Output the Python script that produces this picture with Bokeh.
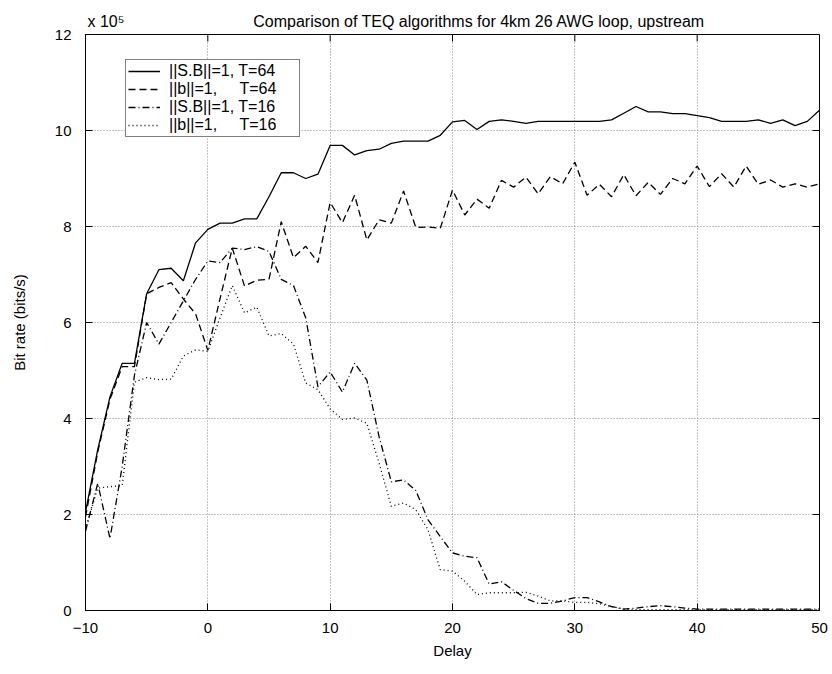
import math
from bokeh.plotting import figure
from bokeh.models import Range1d, FixedTicker, Title
from bokeh.embed import file_html
from bokeh.resources import INLINE

delay = list(range(-10, 51))

# Bit rate values in units of 1e5 bits/s
sb_t64 = [2.05, 3.35, 4.45, 5.15, 5.15, 6.6, 7.1, 7.13, 6.87, 7.66,
          7.94, 8.07, 8.07, 8.16, 8.16, 8.62, 9.12, 9.12, 9.0, 9.09,
          9.69, 9.69, 9.49, 9.58, 9.61, 9.73, 9.78, 9.78, 9.78, 9.9,
          10.18, 10.21, 10.02, 10.19, 10.22, 10.19, 10.15, 10.19, 10.19, 10.19,
          10.19, 10.19, 10.19, 10.22, 10.36, 10.5, 10.39, 10.39, 10.35, 10.35,
          10.31, 10.27, 10.19, 10.19, 10.19, 10.22, 10.15, 10.22, 10.1, 10.19,
          10.42]
b_t64 = [1.95, 3.3, 4.4, 5.08, 5.08, 6.6, 6.73, 6.83, 6.49, 6.18,
         5.42, 6.5, 7.55, 6.76, 6.88, 6.9, 8.1, 7.35, 7.59, 7.25,
         8.5, 8.08, 8.65, 7.72, 8.14, 8.07, 8.74, 7.98, 7.99, 7.96,
         8.76, 8.24, 8.57, 8.38, 8.96, 8.82, 9.03, 8.68, 9.04, 8.89,
         9.34, 8.65, 8.88, 8.62, 9.08, 8.64, 8.92, 8.67, 9.0, 8.89,
         9.26, 8.83, 9.1, 8.82, 9.26, 8.88, 8.97, 8.82, 8.89, 8.82,
         8.89]
sb_t16 = [1.65, 2.65, 1.5, 3.0, 4.9, 6.0, 5.55, 6.0, 6.45, 6.9,
          7.28, 7.25, 7.55, 7.52, 7.58, 7.48, 6.9, 6.77, 6.1, 4.66,
          4.97, 4.55, 5.15, 4.8, 3.62, 2.68, 2.72, 2.5, 1.89, 1.54,
          1.2, 1.13, 1.1, 0.55, 0.6, 0.42, 0.25, 0.15, 0.15, 0.2,
          0.27, 0.27, 0.18, 0.08, 0.03, 0.05, 0.08, 0.1, 0.08, 0.05,
          0.03, 0.03, 0.03, 0.03, 0.03, 0.03, 0.03, 0.03, 0.03, 0.03,
          0.03]
b_t16 = [1.7, 2.55, 2.58, 2.6, 4.76, 4.85, 4.81, 4.82, 5.3, 5.43,
         5.4, 6.1, 6.77, 6.2, 6.32, 5.72, 5.77, 5.55, 4.74, 4.6,
         4.2, 3.98, 4.01, 3.9, 3.07, 2.17, 2.24, 2.1, 1.68, 0.85,
         0.82, 0.61, 0.33, 0.37, 0.37, 0.37, 0.38, 0.3, 0.2, 0.2,
         0.17, 0.17, 0.14, 0.08, 0.03, 0.02, 0.02, 0.02, 0.02, 0.02,
         0.02, 0.02, 0.02, 0.02, 0.02, 0.02, 0.02, 0.02, 0.02, 0.02,
         0.02]

x_ticks = [-10, 0, 10, 20, 30, 40, 50]
y_ticks = [0, 2, 4, 6, 8, 10, 12]
labels = ["||S.B||=1, T=64", "||b||=1,\u00a0\u00a0\u00a0\u00a0\u00a0T=64",
          "||S.B||=1, T=16", "||b||=1,\u00a0\u00a0\u00a0\u00a0\u00a0T=16"]
title_text = "Comparison of TEQ algorithms for 4km 26 AWG loop, upstream"
scale_text = "x 10\u2075"

FONT = "Liberation Sans"
X0, X1, Y0, Y1 = -10, 50, 0, 12

p = figure(width=830, height=672, output_backend="svg", toolbar_location=None,
           x_range=Range1d(X0, X1), y_range=Range1d(Y0, Y1),
           min_border_left=85, min_border_right=11, min_border_top=34, min_border_bottom=62)
p.title = None
p.background_fill_color = "white"
p.border_fill_color = "white"
p.outline_line_color = "black"
p.outline_line_width = 1

styles = [("solid", sb_t64), ("7 4", b_t64), ("7 3 1 3", sb_t16), ("1 3", b_t16)]
for (dash, ys), lab in zip(styles, labels):
    p.line(delay, ys, line_color="black", line_width=1.3, line_dash=dash, legend_label=lab)

for ax in (p.xaxis[0], p.yaxis[0]):
    ax.major_label_text_font = FONT
    ax.major_label_text_font_size = "15px"
    ax.major_label_text_color = "black"
    ax.axis_label_text_font = FONT
    ax.axis_label_text_font_size = "15px"
    ax.axis_label_text_font_style = "normal"
    ax.axis_label_text_color = "black"
    ax.major_tick_in = 7
    ax.major_tick_out = 0
    ax.minor_tick_line_color = None
    ax.axis_line_color = "black"
    ax.major_tick_line_color = "black"

p.xaxis[0].ticker = FixedTicker(ticks=x_ticks)
p.yaxis[0].ticker = FixedTicker(ticks=y_ticks)
p.xaxis[0].axis_label = "Delay"
p.yaxis[0].axis_label = "Bit rate (bits/s)"
p.xaxis[0].major_label_standoff = 12
p.yaxis[0].major_label_standoff = 14
p.xaxis[0].axis_label_standoff = 6
p.yaxis[0].axis_label_standoff = 24

# inward ticks on the top and right edges of the box
p.ray(x=x_ticks, y=[Y1] * len(x_ticks), length=7, length_units="screen",
      angle=-math.pi / 2, line_color="black", line_width=1)
p.ray(x=[X1] * len(y_ticks), y=y_ticks, length=7, length_units="screen",
      angle=math.pi, line_color="black", line_width=1)

p.xgrid.ticker = FixedTicker(ticks=x_ticks)
p.ygrid.ticker = FixedTicker(ticks=y_ticks)
for g in (p.xgrid, p.ygrid):
    g.grid_line_color = "#888888"
    g.grid_line_dash = "1 2"
    g.grid_line_width = 1

leg = p.legend[0]
leg.location = (40, 473)
leg.border_line_color = "black"
leg.border_line_width = 1.5
leg.background_fill_color = "white"
leg.background_fill_alpha = 1
leg.label_text_font = FONT
leg.label_text_font_size = "16px"
leg.label_text_color = "black"
leg.glyph_width = 32
leg.glyph_height = 14
leg.label_height = 14
leg.label_width = 128
leg.spacing = 0
leg.padding = 2
leg.margin = 0
leg.label_standoff = 9

# scale factor and title share one header row above the box
header = scale_text + "\u00a0" * 29 + title_text
p.add_layout(Title(text=header, align="left", offset=2, standoff=10,
                   text_font=FONT, text_font_size="16px", text_font_style="normal",
                   text_color="black"), "above")

open("out.html", "w").write(file_html(p, INLINE))
